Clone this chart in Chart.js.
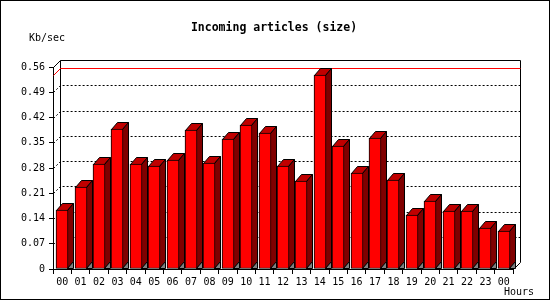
<!DOCTYPE html>
<html>

<head>
  <meta charset="UTF-8">
  <script src="https://cdn.jsdelivr.net/npm/chart.js"></script>
  <title>Incoming articles (size)</title>
  <style>
    body { margin: 0; background: #fff; }
    .grafico { width: 550px; height: 300px; }
  </style>
</head>

<body>
  <div class="grafico">
    <canvas id="myChart"></canvas>
  </div>
</body>

</html>

<script>
  var titulo = "Incoming articles (size)";
  var unidade = "Kb/sec";
  var eixoX = "Hours";

  var horas = ['00', '01', '02', '03', '04', '05', '06', '07', '08', '09', '10', '11',
    '12', '13', '14', '15', '16', '17', '18', '19', '20', '21', '22', '23', '00'];

  var valores = [0.164, 0.228, 0.291, 0.389, 0.291, 0.286, 0.303, 0.386, 0.294, 0.361, 0.400, 0.378,
    0.286, 0.245, 0.538, 0.342, 0.267, 0.364, 0.247, 0.150, 0.189, 0.161, 0.161, 0.114, 0.106];

  var ticksY = [0, 0.07, 0.14, 0.21, 0.28, 0.35, 0.42, 0.49, 0.56];

  // profundidade do efeito 3D
  var DX = 6, DY = 7, PAREDE = 7;

  var fundo3d = {
    id: 'fundo3d',
    beforeDraw(chart) {
      var ctx = chart.ctx;
      ctx.save();
      ctx.fillStyle = '#fff';
      ctx.fillRect(0, 0, chart.width, chart.height);
      ctx.restore();
    },
    beforeDatasetsDraw(chart) {
      var ctx = chart.ctx;
      var area = chart.chartArea;
      var y = chart.scales.y;
      var esq = area.left + 0.5, dir = area.right + 0.5;
      var topo = Math.round(y.getPixelForValue(ticksY[ticksY.length - 1])) + 0.5;
      var base = Math.round(y.getPixelForValue(0)) + 0.5;

      ctx.save();
      ctx.lineWidth = 1;
      ctx.strokeStyle = '#000';

      // linhas de grade pontilhadas na parede do fundo
      ctx.setLineDash([2, 2]);
      for (var i = 1; i < ticksY.length - 1; i++) {
        var py = Math.round(y.getPixelForValue(ticksY[i])) + 0.5;
        ctx.beginPath();
        ctx.moveTo(esq, py);
        ctx.lineTo(esq + PAREDE, py - PAREDE);
        ctx.lineTo(dir + PAREDE, py - PAREDE);
        ctx.stroke();
      }
      ctx.setLineDash([]);

      // contorno da parede do fundo
      ctx.beginPath();
      ctx.moveTo(esq, topo);
      ctx.lineTo(esq + PAREDE, topo - PAREDE);
      ctx.lineTo(dir + PAREDE, topo - PAREDE);
      ctx.lineTo(dir + PAREDE, base - PAREDE);
      ctx.lineTo(dir, base);
      ctx.moveTo(esq + PAREDE, topo - PAREDE);
      ctx.lineTo(esq + PAREDE, base - PAREDE);
      ctx.stroke();

      // linha vermelha do valor maximo
      var maximo = Math.max.apply(null, valores);
      var pm = Math.round(y.getPixelForValue(maximo)) + 0.5;
      ctx.strokeStyle = '#ff0000';
      ctx.beginPath();
      ctx.moveTo(esq, pm);
      ctx.lineTo(esq + PAREDE, pm - PAREDE);
      ctx.lineTo(dir + PAREDE, pm - PAREDE);
      ctx.stroke();

      // lados e topos das barras
      ctx.strokeStyle = '#000';
      var meta = chart.getDatasetMeta(0);
      meta.data.forEach(function (bar) {
        bar.x = Math.round(bar.x);
        bar.y = Math.round(bar.y);
        var l = bar.x - bar.width / 2 + 0.5;
        var r = bar.x + bar.width / 2 - 0.5;
        var t = bar.y + 0.5;
        var b = Math.round(bar.base) - 0.5;

        ctx.fillStyle = '#c00000';
        ctx.beginPath();
        ctx.moveTo(l, t);
        ctx.lineTo(l + DX, t - DY);
        ctx.lineTo(r + DX, t - DY);
        ctx.lineTo(r, t);
        ctx.closePath();
        ctx.fill();
        ctx.stroke();

        ctx.fillStyle = '#800000';
        ctx.beginPath();
        ctx.moveTo(r, t);
        ctx.lineTo(r + DX, t - DY);
        ctx.lineTo(r + DX, b - DY);
        ctx.lineTo(r, b);
        ctx.closePath();
        ctx.fill();
        ctx.stroke();

        ctx.fillStyle = '#808080';
        ctx.beginPath();
        ctx.moveTo(r, b);
        ctx.lineTo(r + DX, b - DY);
        ctx.lineTo(r + DX, b);
        ctx.closePath();
        ctx.fill();
        ctx.stroke();
      });
      ctx.restore();
    },
    afterDraw(chart) {
      var ctx = chart.ctx;
      ctx.save();
      ctx.fillStyle = '#000';
      ctx.font = 'bold 11.5px "DejaVu Sans Mono"';
      ctx.textAlign = 'center';
      ctx.textBaseline = 'alphabetic';
      ctx.fillText(titulo, 274, 30.5);
      ctx.font = '10px "DejaVu Sans Mono"';
      ctx.textAlign = 'left';
      ctx.fillText(unidade, 29, 41);
      ctx.fillText(eixoX, 504, 295);
      ctx.strokeStyle = '#000';
      ctx.lineWidth = 1;
      ctx.strokeRect(0.5, 0.5, 549, 299);
      ctx.restore();
    }
  };

  const data = {
    labels: horas,
    datasets: [{
      data: valores,
      backgroundColor: '#ff0000',
      borderColor: '#000',
      borderWidth: 1,
      borderSkipped: false,
      barThickness: 12
    }]
  };

  const config = {
    type: 'bar',
    data: data,
    options: {
      responsive: true,
      maintainAspectRatio: false,
      animation: false,
      layout: { padding: { top: 67, right: 37, bottom: 0, left: 0 } },
      plugins: {
        legend: { display: false },
        title: { display: false },
        tooltip: { enabled: false }
      },
      scales: {
        x: {
          offset: true,
          afterFit: function (scale) { scale.height = 31; },
          grid: { drawOnChartArea: false, tickLength: 5, color: '#000', offset: true },
          border: { color: '#000', width: 1 },
          ticks: {
            autoSkip: false, maxRotation: 0, padding: 2, color: '#000',
            font: { family: 'DejaVu Sans Mono', size: 10 }
          }
        },
        y: {
          min: 0,
          max: 0.56,
          afterFit: function (scale) { scale.width = 53; },
          afterBuildTicks: function (scale) {
            scale.ticks = ticksY.map(function (v) { return { value: v }; });
          },
          grid: { drawOnChartArea: false, tickLength: 4, color: '#000' },
          border: { color: '#000', width: 1 },
          ticks: {
            padding: 4, color: '#000',
            font: { family: 'DejaVu Sans Mono', size: 10 },
            callback: function (v) { return v === 0 ? '0' : v.toFixed(2); }
          }
        }
      }
    },
    plugins: [fundo3d]
  };

  const myChart = new Chart(document.getElementById('myChart'), config);
</script>
